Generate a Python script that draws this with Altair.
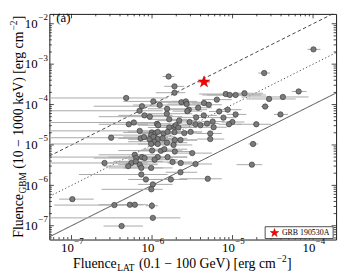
import math
import altair as alt
import pandas as pd

# ---------------- data (log10 of fluence) ----------------
lat_log = [-3.995, -4.607, -5.794, -5.721, -5.721, -4.179, -5.084, -5.035, -4.962, -4.852,
           -4.546, -4.375, -4.595, -4.405, -4.705, -6.321, -5.984, -5.905, -5.635, -5.58,
           -5.57, -5.354, -5.296, -5.195, -6.125, -6.155, -5.813, -5.543, -5.427, -6.094,
           -6.027, -5.816, -5.562, -5.166, -5.06, -4.962, -5.357, -5.452, -5.113, -5.663,
           -5.786, -5.247, -5.002, -6.226, -6.288, -5.938, -5.923, -5.725, -5.705, -5.534,
           -5.46, -5.399, -5.317, -5.044, -5.786, -5.672, -5.235, -6.153, -6.002, -5.962,
           -5.929, -5.856, -5.807, -6.011, -5.521, -5.277, -5.277, -6.508, -6.141, -6.1,
           -6.031, -5.982, -5.929, -5.868, -5.717, -5.721, -5.599, -5.647, -5.733, -5.969,
           -6.011, -5.929, -5.815, -5.999, -5.889, -5.847, -5.717, -5.501, -4.745, -5.929,
           -5.807, -6.125, -6.214, -6.195, -6.092, -5.969, -6.59, -6.256, -6.296, -6.202,
           -6.153, -6.011, -6.133, -5.745, -5.644, -5.46, -5.647, -6.133, -5.766, -5.308,
           -6.076, -5.99, -6.009, -6.99, -6.468, -6.275, -6.214, -6.002, -5.99, -6.378,
           -4.76]
gbm_log = [-2.634, -3.22, -3.305, -3.549, -3.707, -3.676, -3.739, -3.763, -3.763, -3.72,
           -3.861, -3.812, -4.049, -4.244, -4.488, -3.837, -3.922, -4.012, -3.944, -3.922,
           -3.988, -3.963, -4.005, -3.878, -4.041, -4.154, -4.105, -4.127, -4.08, -4.268,
           -4.3, -4.227, -4.163, -4.171, -4.127, -4.244, -4.268, -4.317, -4.324, -4.398,
           -4.366, -4.422, -4.432, -4.444, -4.488, -4.476, -4.512, -4.554, -4.512, -4.432,
           -4.488, -4.512, -4.471, -4.488, -4.568, -4.568, -4.561, -4.651, -4.69, -4.715,
           -4.676, -4.715, -4.676, -4.756, -4.676, -4.715, -4.854, -4.822, -4.837, -4.805,
           -4.861, -4.798, -4.854, -4.837, -4.878, -4.683, -4.707, -4.878, -5.0, -4.92,
           -4.976, -4.976, -4.944, -5.139, -5.146, -5.105, -5.163, -5.202, -4.976, -5.3,
           -5.3, -5.3, -5.244, -5.324, -5.324, -5.366, -5.446, -5.446, -5.524, -5.407,
           -5.488, -5.568, -5.568, -5.422, -5.446, -5.471, -5.676, -5.732, -5.854, -5.837,
           -5.854, -5.976, -6.098, -6.341, -6.488, -6.48, -6.48, -6.505, -6.805, -7.007,
           -5.488]
lat_lo_log = [-4.069, -4.681, -5.868, -5.847, -5.953, -4.264, -5.415, -5.317, -5.378, -4.95,
              -4.828, -4.889, -4.644, -4.485, -4.95, -7.6, -6.357, -6.235, -5.929, -5.745,
              -5.807, -5.501, -5.439, -5.378, -6.725, -7.6, -6.051, -5.807, -5.562, -6.419,
              -6.663, -6.113, -5.745, -5.293, -5.195, -5.072, -5.501, -5.684, -5.256, -5.929,
              -6.051, -5.378, -5.133, -7.6, -6.663, -6.296, -6.174, -5.929, -5.868, -5.709,
              -5.623, -5.562, -5.464, -5.17, -6.051, -5.868, -5.378, -7.6, -6.357, -6.174,
              -6.296, -6.051, -5.99, -6.541, -5.684, -5.439, -5.439, -7.6, -6.419, -6.357,
              -6.296, -6.174, -6.113, -6.051, -5.929, -5.929, -5.807, -5.868, -5.99, -6.296,
              -7.6, -6.174, -6.051, -6.419, -6.174, -6.113, -5.929, -5.684, -4.803, -7.6,
              -6.051, -6.541, -6.663, -6.725, -6.357, -6.296, -7.6, -6.541, -6.602, -6.48,
              -6.419, -6.541, -6.357, -5.929, -5.807, -5.623, -5.831, -6.908, -5.99, -5.66,
              -6.296, -6.174, -6.627, -7.153, -7.214, -6.663, -6.48, -6.076, -7.6, -6.602,
              -4.95]
lat_hi_log = [-3.909, -4.534, -5.721, -5.599, -5.586, -4.081, -4.889, -4.644, -4.583, -4.62,
              -4.215, -4.056, -4.546, -4.313, -4.521, -5.807, -5.623, -5.439, -5.317, -5.439,
              -5.256, -5.256, -5.133, -5.011, -5.868, -5.868, -5.501, -5.317, -5.256, -5.745,
              -5.623, -5.501, -5.378, -5.047, -4.889, -4.828, -5.195, -5.256, -4.95, -5.439,
              -5.562, -5.103, -4.852, -5.929, -6.051, -5.623, -5.684, -5.501, -5.562, -5.378,
              -5.317, -5.256, -5.17, -4.889, -5.501, -5.439, -5.072, -5.868, -5.623, -5.745,
              -5.501, -5.623, -5.562, -5.745, -5.378, -5.133, -5.103, -5.929, -5.868, -5.807,
              -5.745, -5.709, -5.623, -5.562, -5.439, -5.439, -5.378, -5.439, -5.501, -5.745,
              -5.807, -5.684, -5.562, -5.684, -5.623, -5.562, -5.501, -5.256, -4.681, -5.562,
              -5.562, -5.807, -5.929, -5.868, -5.745, -5.684, -6.051, -5.929, -6.051, -5.868,
              -5.929, -5.745, -5.868, -5.501, -5.439, -5.256, -5.439, -5.807, -5.562, -5.133,
              -5.807, -5.745, -5.868, -6.725, -6.174, -6.113, -6.051, -5.929, -5.647, -6.113,
              -4.632]

# visible vertical error bars (log10)
v_lat_log = [-6.002, -3.995, -4.607]
v_lo_log = [-6.60, -2.68, -3.26]
v_hi_log = [-6.41, -2.59, -3.18]

# GRB 190530A
star_name = "GRB 190530A"
star_lat_log = [-5.354]
star_gbm_log = [-3.439]
star_lo_log = [-5.427]
star_hi_log = [-5.280]

# reference lines: GBM = ratio x LAT
line_ratios = [1, 10, 100]

x_major = [1e-7, 1e-6, 1e-5, 1e-4]
x_exp = ["\u22127", "\u22126", "\u22125", "\u22124"]
y_major = [1e-7, 1e-6, 1e-5, 1e-4, 1e-3, 1e-2]
y_exp = ["\u22127", "\u22126", "\u22125", "\u22124", "\u22123", "\u22122"]

# ---------------- layout ----------------
W, H = 291, 229
XMIN, XMAX = -7.275, -3.714
YMIN, YMAX = -7.341, -1.756
FONT = "Liberation Serif"
TC = "#1a1a1a"
STAR = ("M0,-1L0.2245,-0.309L0.951,-0.309L0.363,0.118L0.588,0.809L0,0.382"
        "L-0.588,0.809L-0.363,0.118L-0.951,-0.309L-0.2245,-0.309Z")

xs = alt.Scale(type="log", domain=[10 ** XMIN, 10 ** XMAX], nice=False)
ys = alt.Scale(type="log", domain=[10 ** YMIN, 10 ** YMAX], nice=False)

df = pd.DataFrame({
    "lat": [10 ** v for v in lat_log],
    "gbm": [10 ** v for v in gbm_log],
    "lo": [10 ** max(v, XMIN) for v in lat_lo_log],
    "hi": [10 ** min(v, XMAX) for v in lat_hi_log],
})
dv = pd.DataFrame({
    "lat": [10 ** v for v in v_lat_log],
    "lo": [10 ** v for v in v_lo_log],
    "hi": [10 ** v for v in v_hi_log],
})
ds = pd.DataFrame({
    "lat": [10 ** v for v in star_lat_log],
    "gbm": [10 ** v for v in star_gbm_log],
    "lo": [10 ** v for v in star_lo_log],
    "hi": [10 ** v for v in star_hi_log],
})


def X(f):
    return alt.X(f, scale=xs, axis=None)


def Y(f):
    return alt.Y(f, scale=ys, axis=None)


layers = []

# reference lines (end points on the plot box)
for r, dash in zip(line_ratios, ([1, 0], [1.2, 2.4], [3.5, 2.5])):
    lo_x = max(XMIN, YMIN - math.log10(r))
    hi_x = min(XMAX, YMAX - math.log10(r))
    ends = [10 ** lo_x, 10 ** hi_x]
    dl = pd.DataFrame({"lat": ends, "gbm": [v * r for v in ends]})
    layers.append(alt.Chart(dl).mark_line(color="#333333", strokeWidth=0.9, strokeDash=dash)
                  .encode(x=X("lat:Q"), y=Y("gbm:Q")))

# error bars
layers.append(alt.Chart(df).mark_rule(color="#a9a9a9", strokeWidth=1)
              .encode(x=X("lo:Q"), x2="hi:Q", y=Y("gbm:Q")))
layers.append(alt.Chart(dv).mark_rule(color="#8a8a8a", strokeWidth=1)
              .encode(x=X("lat:Q"), y=Y("lo:Q"), y2="hi:Q"))
# points
layers.append(alt.Chart(df).mark_circle(size=30, color="#7a7a7a", stroke="#333333",
                                        strokeWidth=0.6, opacity=1)
              .encode(x=X("lat:Q"), y=Y("gbm:Q")))
# star
layers.append(alt.Chart(ds).mark_rule(color="#ff3030", strokeWidth=1)
              .encode(x=X("lo:Q"), x2="hi:Q", y=Y("gbm:Q")))
layers.append(alt.Chart(ds).mark_point(shape=STAR, filled=True, size=150, opacity=1,
                                       fill="#ff0000", stroke="#990000", strokeWidth=0.5)
              .encode(x=X("lat:Q"), y=Y("gbm:Q")))

# ticks (inward, all four sides)
x_minor = [k * 10.0 ** e for e in range(-8, -3) for k in range(2, 10)
           if XMIN < math.log10(k) + e < XMAX]
y_minor = [k * 10.0 ** e for e in range(-8, -1) for k in range(2, 10)
           if YMIN < math.log10(k) + e < YMAX]
for vals, L in ((x_major, 4.5), (x_minor, 2.5)):
    d = pd.DataFrame({"v": vals})
    for y0, y1 in ((H, H - L), (0, L)):
        layers.append(alt.Chart(d).mark_rule(color=TC, strokeWidth=0.8)
                      .encode(x=X("v:Q"), y=alt.value(y0), y2=alt.value(y1)))
for vals, L in ((y_major, 4.5), (y_minor, 2.5)):
    d = pd.DataFrame({"v": vals})
    for x0, x1 in ((0, L), (W, W - L)):
        layers.append(alt.Chart(d).mark_rule(color=TC, strokeWidth=0.8)
                      .encode(y=Y("v:Q"), x=alt.value(x0), x2=alt.value(x1)))

# tick labels 10^n
xl = pd.DataFrame({"v": x_major, "base": ["10"] * len(x_major), "sup": x_exp})
layers.append(alt.Chart(xl).mark_text(align="right", baseline="alphabetic", font=FONT,
                                      fontSize=13, dx=2.3, color="black")
              .encode(x=X("v:Q"), y=alt.value(H + 13), text="base:N"))
layers.append(alt.Chart(xl).mark_text(align="left", baseline="alphabetic", font=FONT,
                                      fontSize=9, dx=2.8, color="black")
              .encode(x=X("v:Q"), y=alt.value(H + 5), text="sup:N"))
yl = pd.DataFrame({"v": y_major, "base": ["10"] * len(y_major), "sup": y_exp})
layers.append(alt.Chart(yl).mark_text(align="right", baseline="alphabetic", font=FONT,
                                      fontSize=13, dy=4.3, color="black")
              .encode(y=Y("v:Q"), x=alt.value(-12), text="base:N"))
layers.append(alt.Chart(yl).mark_text(align="left", baseline="alphabetic", font=FONT,
                                      fontSize=9, dy=-3.7, color="black")
              .encode(y=Y("v:Q"), x=alt.value(-11), text="sup:N"))

# ---------------- axis titles with sub/superscripts ----------------
CW = {'F': .556, 'l': .278, 'u': .5, 'e': .444, 'n': .5, 'c': .444, 'L': .611, 'A': .722,
      'T': .611, 'G': .722, 'B': .667, 'M': .889, '(': .333, ')': .333, '[': .333, ']': .333,
      '0': .5, '1': .5, '.': .25, ' ': .25, '\u2212': .564, '2': .5, 'V': .722, 'k': .5,
      'r': .333, 'g': .5, 'm': .778, 'a': .444}


def tw(s, size):
    return sum(CW.get(ch, 0.5) for ch in s) * size


def piece(txt, x, y, size, angle=0, align="left"):
    d = pd.DataFrame({"t": [txt]})
    return alt.Chart(d).mark_text(align=align, baseline="alphabetic", font=FONT,
                                  fontSize=size, angle=angle, color="black") \
        .encode(text="t:N", x=alt.value(x), y=alt.value(y))


T, S = 14, 9.5


def title_parts(sub, mid):
    return [("Fluence", T, 0, 0.5), (sub, S, 3, 3.5),
            (mid, T, 0, 0.6), ("\u22122", S, -6, 0.4), ("]", T, 0, 0)]


# x title
parts = title_parts("LAT", "(0.1 \u2212 100 GeV) [erg cm")
total = sum(tw(p[0], p[1]) + p[3] for p in parts)
cx, base = 135, 258
pos = cx - total / 2
for txt, size, off, gap in parts:
    layers.append(piece(txt, pos, base + off, size))
    pos += tw(txt, size) + gap

# y title (rotated, reads bottom to top)
parts = title_parts("GBM", "(10 \u2212 1000 keV) [erg cm")
total = sum(tw(p[0], p[1]) + p[3] for p in parts)
cy, basex = 114.5, -27
pos = cy + total / 2
for txt, size, off, gap in parts:
    layers.append(piece(txt, basex + off, pos, size, angle=270))
    pos -= tw(txt, size) + gap

# panel label
layers.append(piece("(a)", 7, 8.5, 13))

# legend box (lower right)
leg = pd.DataFrame({"label": [star_name]})
layers.append(alt.Chart(leg).mark_rect(fill="white", stroke="#222222", strokeWidth=0.8)
              .encode(x=alt.value(219), x2=alt.value(288), y=alt.value(216), y2=alt.value(228)))
layers.append(alt.Chart(leg).mark_point(shape=STAR, filled=True, size=80, opacity=1,
                                        fill="#ff0000", stroke="#990000", strokeWidth=0.5)
              .encode(x=alt.value(228.5), y=alt.value(222.3)))
layers.append(alt.Chart(leg).mark_text(align="left", baseline="middle", font=FONT,
                                       fontSize=8, color="black")
              .encode(text="label:N", x=alt.value(236), y=alt.value(222.5)))

chart = alt.layer(*layers).properties(
    width=W, height=H,
    padding={"left": 42, "top": 4, "right": 6, "bottom": 33},
    autosize=alt.AutoSizeParams(type="none"),
    background="white",
).configure_view(stroke="#1a1a1a", strokeWidth=1)

chart.save("out.html", embed_options={"renderer": "svg", "actions": False})
